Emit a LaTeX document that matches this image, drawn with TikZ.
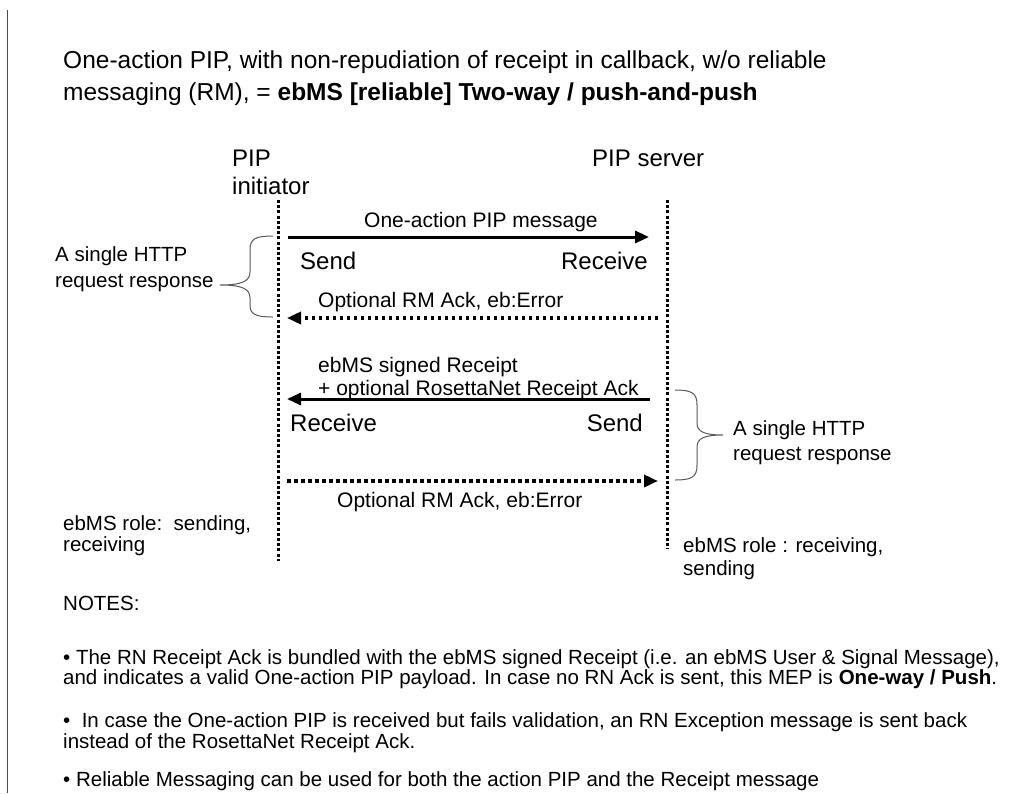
\documentclass[tikz,border=0pt]{standalone}
\usepackage{fontspec}
\setmainfont{Liberation Sans}
\usetikzlibrary{arrows.meta}
\tikzset{
  txt/.style={inner sep=0pt, anchor=base west},
  txtr/.style={inner sep=0pt, anchor=base east},
  ttl/.style={txt, font=\fontsize{24.5}{28}\selectfont},
  big/.style={font=\fontsize{24}{28}\selectfont},
  lbl/.style={font=\fontsize{21}{24}\selectfont},
  sml/.style={font=\fontsize{20.5}{24}\selectfont},
  lifeline/.style={line width=3pt, dash pattern=on 3pt off 2.2pt},
  msg/.style={line width=3pt, -{Triangle[length=14pt,width=12pt]}},
  optmsg/.style={line width=3.5pt, dash pattern=on 3.5pt off 3.5pt, -{Triangle[length=14pt,width=12pt]}},
  bracepath/.style={line width=1pt, draw=black!65},
}
\begin{document}
\begin{tikzpicture}[x=1pt,y=-1pt]
\useasboundingbox (0,0) rectangle (1026,793);
\fill[white] (0,0) rectangle (1026,793);
% left border
\coordinate (b1) at (7,10);
\coordinate (b2) at (7,793);
\draw[line width=1pt, black!70] (b1) -- (b2);

% title
\node[ttl] (t1) at (63,68) {One-action PIP, with non-repudiation of receipt in callback, w/o reliable};
\node[ttl] (t2) at (63,100) {messaging (RM), = \textbf{ebMS [reliable] Two-way / push-and-push}};

% participants
\node[txt,big] (p1) at (232,166) {PIP};
\node[txt,big] (p1b) at (232,194) {initiator};
\node[txt,big] (p2) at (592,166) {PIP server};

% lifelines
\coordinate (L1) at (278,200);
\coordinate (L2) at (278,561);
\coordinate (R1) at (667,200);
\coordinate (R2) at (667,549);
\draw[lifeline] (L1) -- (L2);
\draw[lifeline] (R1) -- (R2);

% message 1
\coordinate (m1s) at (288,237);
\coordinate (m1e) at (649,237);
\draw[msg] (m1s) -- (m1e);
\node[txt,lbl] (m1l) at (364,227) {One-action PIP message};
\node[txt,big] (s1) at (300,269) {Send};
\node[txtr,big] (r1) at (648,269) {Receive};

% message 2
\coordinate (m2s) at (658,318);
\coordinate (m2e) at (287,318);
\draw[optmsg] (m2s) -- (m2e);
\node[txt,lbl] (m2l) at (318,307) {Optional RM Ack, eb:Error};

% message 3
\coordinate (m3s) at (650,399);
\coordinate (m3e) at (287,399);
\draw[msg] (m3s) -- (m3e);
\node[txt,lbl] (m3l) at (318,372) {ebMS signed Receipt};
\node[txt,lbl] (m3m) at (318,395) {+ optional RosettaNet Receipt Ack};
\node[txt,big] (r2) at (290,431) {Receive};
\node[txtr,big] (s2) at (643,431) {Send};

% message 4
\coordinate (m4s) at (287,481);
\coordinate (m4e) at (658,481);
\draw[optmsg] (m4s) -- (m4e);
\node[txt,lbl] (m4l) at (337,507) {Optional RM Ack, eb:Error};

% braces
\draw[bracepath] (273,236) .. controls (255,236) and (250,239) .. (250,250) -- (250,272)
  .. controls (250,282) and (240,285) .. (220,285)
  .. controls (240,285) and (250,288) .. (250,298) -- (250,305)
  .. controls (250,314) and (255,317) .. (273,317);
\node[txt,sml] (h1) at (55,261) {A single HTTP};
\node[txt,sml] (h1b) at (55,287) {request response};

\draw[bracepath] (675,390) .. controls (692,390) and (697,393) .. (697,405) -- (697,423)
  .. controls (697,432) and (705,435) .. (723,435)
  .. controls (705,435) and (697,438) .. (697,447) -- (697,465)
  .. controls (697,477) and (692,480) .. (675,480);
\node[txt,sml] (h2) at (733,435) {A single HTTP};
\node[txt,sml] (h2b) at (733,460) {request response};

% roles
\node[txt,sml] (e1) at (63,530) {ebMS role:\ \ sending,};
\node[txt,sml] (e1b) at (63,551) {receiving};
\node[txt,sml] (e2) at (683,552) {ebMS role : receiving,};
\node[txt,sml] (e2b) at (683,575) {sending};

% notes
\node[txt,sml] (n0) at (63,610) {NOTES:};
\node[txt,sml] (n1) at (63,664) {\textbullet\ The RN Receipt Ack is bundled with the ebMS signed Receipt (i.e. an ebMS User \& Signal Message),};
\node[txt,sml] (n1b) at (63,684) {and indicates a valid One-action PIP payload. In case no RN Ack is sent, this MEP is \textbf{One-way / Push}.};
\node[txt,sml] (n2) at (63,727) {\textbullet\ \ In case the One-action PIP is received but fails validation, an RN Exception message is sent back};
\node[txt,sml] (n2b) at (63,748) {instead of the RosettaNet Receipt Ack.};
\node[txt,sml] (n3) at (63,786) {\textbullet\ Reliable Messaging can be used for both the action PIP and the Receipt message};
\end{tikzpicture}
\end{document}
